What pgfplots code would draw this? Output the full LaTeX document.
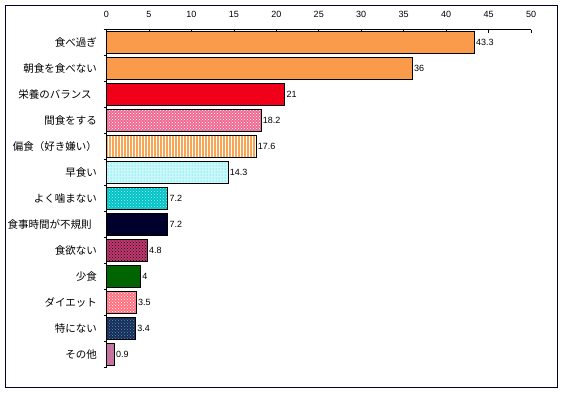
\documentclass[border=0pt]{standalone}
\usepackage{pgfplots}
\pgfplotsset{compat=1.18}
\usepackage{fontspec}
\setmainfont{Liberation Sans}
\newfontfamily\jp{Noto Sans CJK JP}
\usetikzlibrary{patterns}
\definecolor{cOrange}{RGB}{250,155,75}
\definecolor{cRed}{RGB}{240,0,25}
\definecolor{cPink}{RGB}{240,105,145}
\definecolor{cStripe}{RGB}{248,165,85}
\definecolor{cCyanL}{RGB}{205,248,250}
\definecolor{cCyan}{RGB}{0,215,228}
\definecolor{cTeal}{RGB}{0,195,198}
\definecolor{cTealL}{RGB}{170,235,235}
\definecolor{cNavy}{RGB}{0,0,45}
\definecolor{cMag}{RGB}{195,55,105}
\definecolor{cGreen}{RGB}{0,100,0}
\definecolor{cSalmon}{RGB}{255,112,128}
\definecolor{cDark}{RGB}{30,40,85}
\definecolor{cBlueG}{RGB}{50,170,195}
\definecolor{cRose}{RGB}{225,105,155}
\begin{document}
\begin{tikzpicture}[x=1pt,y=1pt]
\path (0,0) rectangle (564,-394);
\draw[line width=1pt, color=cNavy] (5.5,-5.5) rectangle (557,-387);
\begin{axis}[
  at={(106.5pt,-29.5pt)}, anchor=north west,
  scale only axis, width=424.5pt, height=337.5pt,
  xmin=0, xmax=50, ymin=-0.5, ymax=12.5,
  axis x line*=top, axis y line*=left,
  axis line style={-, line width=0.8pt, black},
  tick align=inside,
  xtick={0,5,...,50},
  major tick length=3pt,
  x tick style={black, line width=0.6pt},
  y tick style={black, line width=0.6pt},
  xticklabel style={font=\fontsize{9}{10}\selectfont, yshift=8pt},
  /pgf/number format/assume math mode=true,
  ytick={-0.5,0.5,...,12.5},
  yticklabels={},
  extra y ticks={0,1,...,12},
  extra y tick labels={その他,特にない,ダイエット,少食,食欲ない,食事時間が不規則\phantom{x},よく噛まない,早食い,偏食（好き嫌い）,間食をする,栄養のバランス\phantom{x},朝食を食べない,食べ過ぎ},
  extra y tick style={major tick length=0pt, yticklabel style={font=\jp\fontsize{10.5}{12}\selectfont, xshift=-6pt}},
  xbar, bar width=22pt, bar shift=0pt,
  nodes near coords,
  every node near coord/.append style={anchor=west, inner sep=1.5pt, font=\fontsize{9}{10}\selectfont, black},
  clip=false,
]
\addplot[xbar, bar shift=0pt, fill=cOrange, draw=black, line width=0.8pt] coordinates {(43.3,12)};
\addplot[xbar, bar shift=0pt, fill=cOrange, draw=black, line width=0.8pt] coordinates {(36,11)};
\addplot[xbar, bar shift=0pt, fill=cRed, draw=black, line width=0.8pt] coordinates {(21,10)};
\addplot[xbar, bar shift=0pt, fill=cPink, draw=black, line width=0.8pt, postaction={pattern=crosshatch dots, pattern color=white}] coordinates {(18.2,9)};
\addplot[xbar, bar shift=0pt, fill=cStripe, draw=black, line width=0.8pt, postaction={pattern=vertical lines, pattern color=white}] coordinates {(17.6,8)};
\addplot[xbar, bar shift=0pt, fill=cCyanL, draw=black, line width=0.8pt, postaction={pattern=dots, pattern color=cCyan}] coordinates {(14.3,7)};
\addplot[xbar, bar shift=0pt, fill=cTeal, draw=black, line width=0.8pt, postaction={pattern=crosshatch dots, pattern color=cTealL}] coordinates {(7.2,6)};
\addplot[xbar, bar shift=0pt, fill=cNavy, draw=black, line width=0.8pt] coordinates {(7.2,5)};
\addplot[xbar, bar shift=0pt, fill=cMag, draw=black, line width=0.8pt, postaction={pattern=crosshatch dots, pattern color=cNavy}] coordinates {(4.8,4)};
\addplot[xbar, bar shift=0pt, fill=cGreen, draw=black, line width=0.8pt] coordinates {(4,3)};
\addplot[xbar, bar shift=0pt, fill=cSalmon, draw=black, line width=0.8pt, postaction={pattern=crosshatch dots, pattern color=white}] coordinates {(3.5,2)};
\addplot[xbar, bar shift=0pt, fill=cDark, draw=black, line width=0.8pt, postaction={pattern=crosshatch dots, pattern color=cBlueG}] coordinates {(3.4,1)};
\addplot[xbar, bar shift=0pt, fill=cRose, draw=black, line width=0.8pt, postaction={pattern=crosshatch dots, pattern color=cBlueG}] coordinates {(0.9,0)};
\end{axis}
\end{tikzpicture}
\end{document}
